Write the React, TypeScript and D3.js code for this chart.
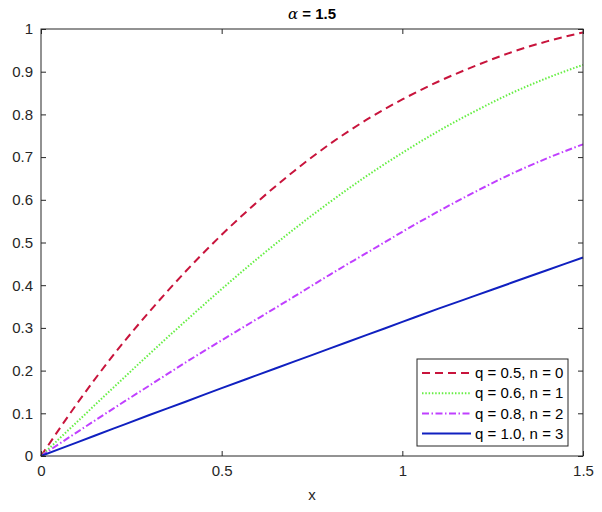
import * as d3 from 'd3';
import * as React from 'react';

// x samples shared by every curve
const xs = [0, 0.1, 0.2, 0.3, 0.4, 0.5, 0.6, 0.7, 0.8, 0.9, 1.0, 1.1, 1.2, 1.3, 1.4, 1.5];

// values
const q05 = [0, 0.123, 0.236, 0.338, 0.432, 0.518, 0.596, 0.667, 0.731, 0.787, 0.835, 0.877, 0.913, 0.945, 0.971, 0.992];
const q06 = [0, 0.08, 0.16, 0.239, 0.316, 0.391, 0.463, 0.531, 0.595, 0.655, 0.71, 0.761, 0.807, 0.849, 0.885, 0.916];
const q08 = [0, 0.056, 0.111, 0.165, 0.219, 0.271, 0.322, 0.373, 0.425, 0.475, 0.525, 0.573, 0.618, 0.66, 0.697, 0.73];
const q10 = [0, 0.032, 0.064, 0.096, 0.127, 0.159, 0.19, 0.221, 0.252, 0.283, 0.314, 0.345, 0.375, 0.405, 0.435, 0.465];

const seriesLabels = ['q = 0.5, n = 0', 'q = 0.6, n = 1', 'q = 0.8, n = 2', 'q = 1.0, n = 3'];
const xTicks = [0, 0.5, 1, 1.5];
const yTicks = [0, 0.1, 0.2, 0.3, 0.4, 0.5, 0.6, 0.7, 0.8, 0.9, 1];

const width = 602;
const height = 512;
const margin = { top: 29, right: 19, bottom: 56, left: 41 };
const font = '"Liberation Sans", Arial, sans-serif';

const styles = [
    { color: '#c8143c', dash: '8,5', width: 2 },
    { color: '#66ee44', dash: '1.5,1.8', width: 2 },
    { color: '#c040ff', dash: '7,2.5,1.5,2.5', width: 2 },
    { color: '#1020c0', dash: '', width: 2 },
];

export default function App() {
    const axisRef = React.useRef<SVGGElement | null>(null);

    const x = d3.scaleLinear().domain([0, 1.5]).range([margin.left, width - margin.right]);
    const y = d3.scaleLinear().domain([0, 1]).range([height - margin.bottom, margin.top]);

    React.useEffect(() => {
        if (!axisRef.current) return;
        const g = d3.select(axisRef.current);
        g.selectAll('*').remove();

        const fmt = (d: d3.NumberValue) => String(+d);

        g.append('g')
            .attr('transform', `translate(0,${y(0)})`)
            .call(d3.axisBottom(x).tickValues(xTicks).tickSize(-5).tickPadding(9).tickFormat(fmt));
        g.append('g')
            .attr('transform', `translate(0,${y(1)})`)
            .call(d3.axisTop(x).tickValues(xTicks).tickSize(-5).tickFormat(() => ''));
        g.append('g')
            .attr('transform', `translate(${x(0)},0)`)
            .call(d3.axisLeft(y).tickValues(yTicks).tickSize(-5).tickPadding(8).tickFormat(fmt));
        g.append('g')
            .attr('transform', `translate(${x(1.5)},0)`)
            .call(d3.axisRight(y).tickValues(yTicks).tickSize(-5).tickFormat(() => ''));

        g.selectAll('.domain').remove();
        g.selectAll('.tick line').attr('stroke', '#262626');
        g.selectAll('.tick text')
            .attr('fill', '#262626')
            .style('font-family', font)
            .style('font-size', '15px');
    }, []);

    const line = d3.line<number>()
        .x((_, i) => x(xs[i]))
        .y(d => y(d))
        .curve(d3.curveMonotoneX);

    const series = [q05, q06, q08, q10];
    const legendX = 417;
    const legendY = 359;

    return (
        <svg width={width} height={height} style={{ position: 'absolute', left: 0, top: 0, background: '#fff' }}>
            <rect x={0} y={0} width={width} height={height} fill="#fff" />
            {series.map((s, i) => (
                <path
                    key={i}
                    d={line(s) || ''}
                    fill="none"
                    stroke={styles[i].color}
                    strokeWidth={styles[i].width}
                    strokeDasharray={styles[i].dash}
                />
            ))}
            <rect
                x={x(0)}
                y={y(1)}
                width={x(1.5) - x(0)}
                height={y(0) - y(1)}
                fill="none"
                stroke="#262626"
                strokeWidth={1}
            />
            <g ref={axisRef} />
            <text x={(x(0) + x(1.5)) / 2} y={19} textAnchor="middle" fontFamily={font} fontSize={15} fontWeight="bold" fill="#000">
                <tspan fontFamily="'DejaVu Serif', serif" fontStyle="italic" fontWeight="normal">α</tspan> = 1.5
            </text>
            <text x={(x(0) + x(1.5)) / 2} y={500} textAnchor="middle" fontFamily={font} fontSize={15} fill="#262626">x</text>
            <g>
                <rect x={legendX} y={legendY} width={151} height={87} fill="#fff" stroke="#262626" strokeWidth={1} />
                {seriesLabels.map((label, i) => {
                    const ry = legendY + 14 + i * 20.2;
                    return (
                        <g key={label}>
                            <line
                                x1={legendX + 5}
                                x2={legendX + 54}
                                y1={ry}
                                y2={ry}
                                stroke={styles[i].color}
                                strokeWidth={styles[i].width}
                                strokeDasharray={styles[i].dash}
                            />
                            <text x={legendX + 58} y={ry} dy="0.35em" fontFamily={font} fontSize={15} fill="#000">
                                {label}
                            </text>
                        </g>
                    );
                })}
            </g>
        </svg>
    );
}
